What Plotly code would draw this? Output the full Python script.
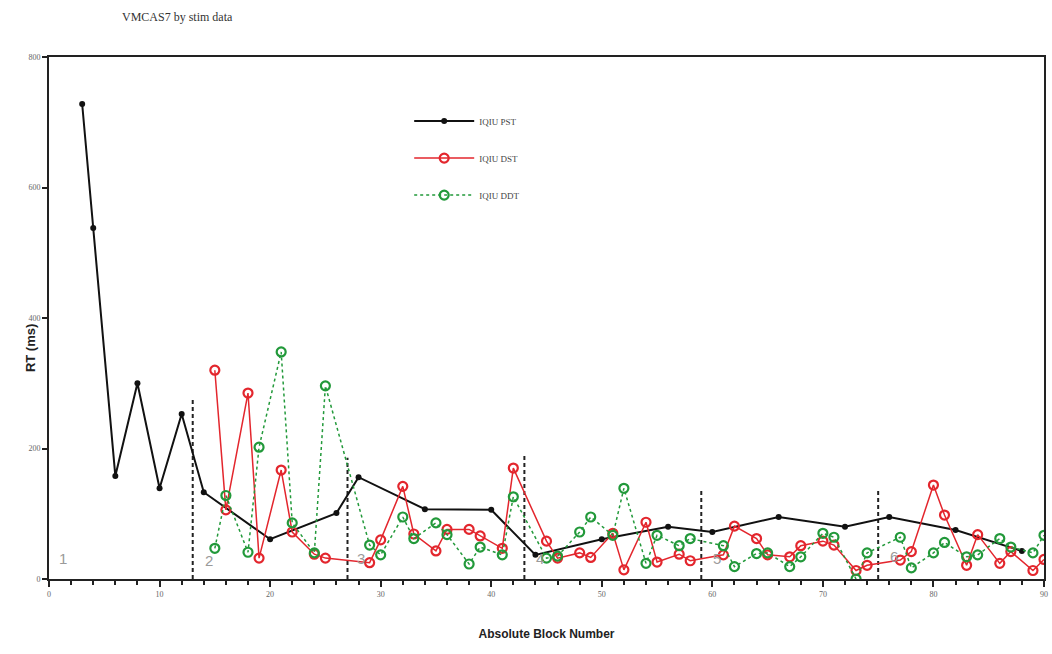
import plotly.graph_objects as go

title_text = "VMCAS7 by stim data"
x_title = "Absolute Block Number"
y_title = "RT (ms)"

pst_name = "IQIU PST"
pst_x = [3, 4, 6, 8, 10, 12, 14, 20, 26, 28, 34, 40, 44, 50, 56, 60, 66, 72, 76, 82, 88]
pst_y = [728, 538, 158, 300, 139, 253, 133, 61, 101, 156, 107, 106, 37, 61, 80, 72, 95, 80, 95, 75, 43]

dst_name = "IQIU DST"
dd_x = [15, 16, 18, 19, 21, 22, 24, 25, 29, 30, 32, 33, 35, 36, 38, 39, 41, 42, 45, 46,
        48, 49, 51, 52, 54, 55, 57, 58, 61, 62, 64, 65, 67, 68, 70, 71, 73, 74, 77, 78,
        80, 81, 83, 84, 86, 87, 89, 90]
dst_y = [320, 106, 285, 32, 167, 72, 38, 32, 25, 60, 142, 69, 43, 76, 76, 66, 47, 170, 58, 32,
         40, 33, 70, 14, 87, 26, 38, 28, 37, 81, 62, 37, 34, 51, 58, 52, 13, 21, 29, 42,
         144, 98, 21, 68, 24, 42, 13, 30]

ddt_name = "IQIU DDT"
ddt_y = [47, 128, 41, 202, 348, 86, 40, 296, 52, 37, 95, 62, 86, 68, 23, 49, 37, 126, 32, 35,
         72, 95, 67, 139, 24, 67, 51, 62, 51, 19, 39, 40, 19, 34, 70, 64, 0, 40, 64, 17,
         40, 56, 34, 37, 62, 49, 40, 67]

bound_x = [13, 27, 43, 59, 75]
bound_h = [279, 186, 193, 135, 136]

seg_labels = ["1", "2", "3", "4", "5", "6"]
seg_x = [1.3, 14.5, 28.2, 44.4, 60.4, 76.4]
seg_y = [32, 28, 32, 32, 32, 34]

x_ticks = [0, 10, 20, 30, 40, 50, 60, 70, 80, 90]
y_ticks = [0, 200, 400, 600, 800]

fig = go.Figure()

# segment boundary dashed lines
for bx, bh in zip(bound_x, bound_h):
    fig.add_trace(go.Scatter(x=[bx, bx], y=[0, bh], mode="lines",
                             line=dict(color="#222222", width=2, dash="4px,3px"),
                             showlegend=False, hoverinfo="skip"))

fig.add_trace(go.Scatter(x=pst_x, y=pst_y, name=pst_name, mode="lines+markers",
                         legendgroup="a",
                         line=dict(color="#111111", width=2),
                         marker=dict(symbol="circle", size=6, color="#111111")))
fig.add_trace(go.Scatter(x=dd_x, y=dst_y, name=dst_name, mode="lines+markers",
                         legendgroup="b",
                         line=dict(color="#e3262d", width=1.5),
                         marker=dict(symbol="circle-open", size=9, color="#e3262d",
                                     line=dict(width=2.2))))
fig.add_trace(go.Scatter(x=dd_x, y=ddt_y, name=ddt_name, mode="lines+markers",
                         legendgroup="c",
                         line=dict(color="#22993a", width=1.5, dash="dot"),
                         marker=dict(symbol="circle-open", size=9, color="#22993a",
                                     line=dict(width=2.2))))

annotations = []
annotations.append(dict(text=title_text, xref="paper", yref="paper",
                        x=(120 - 49) / 999, y=1 + (57 - 17) / 522,
                        xanchor="left", yanchor="middle", showarrow=False,
                        font=dict(family="Liberation Serif", size=12, color="#333333")))
annotations.append(dict(text="<b>" + y_title + "</b>", xref="paper", yref="paper",
                        x=(30 - 49) / 999, y=(579 - 348) / 522, textangle=-90,
                        xanchor="center", yanchor="middle", showarrow=False,
                        font=dict(family="Liberation Sans", size=13, color="#222222")))
for t, sx, sy in zip(seg_labels, seg_x, seg_y):
    annotations.append(dict(text=t, x=sx, y=sy, xref="x", yref="y", showarrow=False,
                            font=dict(family="Liberation Sans", size=15, color="#9a9a9a")))

fig.update_layout(
    width=1052, height=654,
    margin=dict(l=49, r=4, t=57, b=75),
    paper_bgcolor="white", plot_bgcolor="white",
    annotations=annotations,
    legend=dict(x=0.362, y=0.905, xanchor="left", yanchor="top",
                font=dict(family="Liberation Serif", size=9, color="#444444"),
                bgcolor="rgba(0,0,0,0)", tracegroupgap=18, itemwidth=60),
    xaxis=dict(range=[0, 90], tickvals=x_ticks, ticks="outside", ticklen=6, tickwidth=2,
               tickcolor="#222222",
               minor=dict(dtick=2, ticks="outside", ticklen=4, tickwidth=1.5, tickcolor="#222222"),
               showline=True, linecolor="#222222", linewidth=2, mirror=True,
               showgrid=False, zeroline=False,
               tickfont=dict(family="Liberation Serif", size=8, color="#666666"),
               title=dict(text="<b>" + x_title + "</b>", standoff=32,
                          font=dict(family="Liberation Sans", size=12, color="#222222"))),
    yaxis=dict(range=[0, 800], tickvals=y_ticks, ticks="outside", ticklen=5, tickwidth=2,
               tickcolor="#222222",
               showline=True, linecolor="#222222", linewidth=2, mirror=True,
               showgrid=False, zeroline=False,
               tickfont=dict(family="Liberation Serif", size=8, color="#666666")),
)

fig.write_html("out.html")
